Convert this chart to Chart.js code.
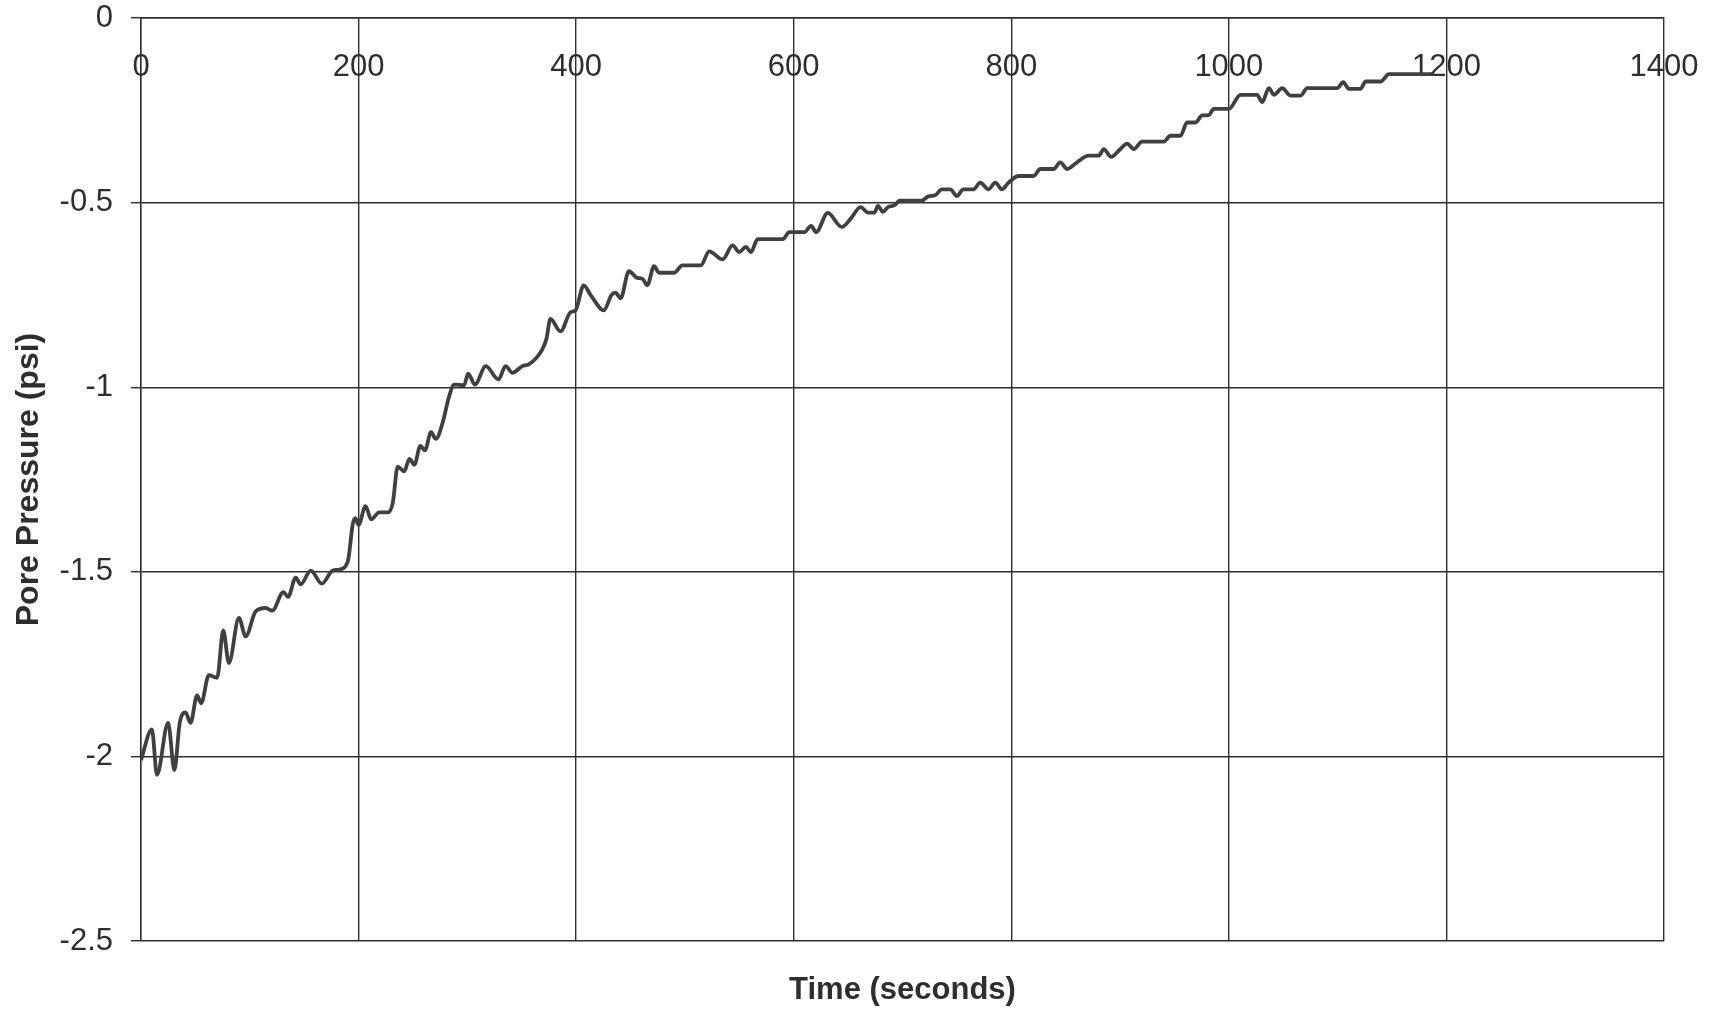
<!DOCTYPE html>
<html>
<head>
<meta charset="utf-8">
<title>Pore Pressure vs Time</title>
<script src="https://cdn.jsdelivr.net/npm/chart.js@4.4.0/dist/chart.umd.min.js"></script>
<style>
  html, body { margin: 0; padding: 0; background: #fff; }
</style>
</head>
<body>
<canvas id="myChart" width="1714" height="1010"></canvas>
<script>
// time in seconds, pore pressure in psi
const time_s = [
    0, 10, 14.7, 24.9, 30.7, 35.6, 40.9, 45.5, 51.6, 55.3, 62.4, 70, 75.6, 80.8, 90, 96.2,
    105.4, 114.6, 120.7, 130.9, 135.2, 142.2, 146.8, 156, 166.2, 176, 182, 190,
    194.8, 197, 200, 206.4, 211.6, 219, 226.9, 231.4, 236, 242, 246.7, 251.3, 256.8, 261,
    266.6, 271, 277.2, 283.3, 288, 297, 300.7, 306.9, 317, 328.5, 335.2, 341.4, 350.5,
    356.6, 368.8, 372.7, 376.3, 385.6, 394.8, 399.4, 407, 413.2, 425.5, 432.3, 436.2,
    440.9, 448.5, 456.2, 460.8, 465.4, 471.6, 476.2, 490, 497.7, 514.6, 522.3, 534.6,
    543.8, 549.9, 556, 560.7, 566.8, 589.9, 596, 609.8, 616, 620.6, 631.3, 644.2, 652.8,
    661.4, 668.2, 674.3, 677.4, 682, 686.6, 692.8, 697.4, 717.4, 723.8, 730, 736.2, 743.9,
    750, 756, 765.3, 771.5, 779, 785.3, 791.4, 797.5, 806.7, 820.5, 826.7, 839, 845,
    851.2, 860.4, 871, 880.4, 885, 891.7, 900.3, 906.4, 912.6, 920.2, 940.2, 946.3,
    955.5, 961.6, 969.3, 975.4, 981.6, 986.2, 1000, 1010.7, 1026, 1030.6, 1036.8, 1041.4,
    1049, 1056.7, 1066, 1072, 1099.6, 1105, 1110.4, 1121, 1125.7, 1139.5, 1147.2, 1188
];
const porePressure = [
    -2.01, -1.927, -2.05, -1.909, -2.037, -1.909, -1.881, -1.909, -1.835, -1.856, -1.78,
    -1.787, -1.659, -1.747, -1.625, -1.675, -1.607, -1.598, -1.605, -1.555, -1.568, -1.516,
    -1.534, -1.497, -1.532, -1.497, -1.494, -1.473,
    -1.369, -1.355, -1.373, -1.322, -1.358, -1.339, -1.339, -1.314, -1.215, -1.228, -1.194,
    -1.21, -1.159, -1.171, -1.122, -1.14, -1.097, -1.024, -0.993, -0.995, -0.963, -0.993,
    -0.943, -0.979, -0.943, -0.961, -0.943, -0.938, -0.898, -0.869, -0.815, -0.849, -0.797,
    -0.792, -0.724, -0.75, -0.792, -0.751, -0.744, -0.759, -0.686, -0.704, -0.706, -0.724,
    -0.672, -0.69, -0.69, -0.67, -0.67, -0.632, -0.654, -0.616, -0.634, -0.62, -0.634,
    -0.599, -0.599, -0.58, -0.58, -0.563, -0.58, -0.528, -0.566, -0.542, -0.512, -0.527,
    -0.527, -0.509, -0.525, -0.512, -0.507, -0.495, -0.495, -0.483, -0.48, -0.464, -0.464,
    -0.482, -0.464, -0.464, -0.446, -0.464, -0.446, -0.464, -0.446, -0.428, -0.428, -0.409,
    -0.409, -0.391, -0.409, -0.391, -0.373, -0.373, -0.355, -0.376, -0.355, -0.34, -0.355,
    -0.335, -0.335, -0.319, -0.319, -0.283, -0.283, -0.264, -0.263, -0.246, -0.246, -0.208,
    -0.208, -0.228, -0.19, -0.208, -0.19, -0.21, -0.21, -0.19, -0.19, -0.174, -0.192,
    -0.192, -0.172, -0.172, -0.152, -0.152
];
const xTicks = [0, 200, 400, 600, 800, 1000, 1200, 1400];
const yTicks = [0, -0.5, -1, -1.5, -2, -2.5];

const ink = '#2e2e2e';
const tickFont = { family: "'Liberation Sans', Arial, sans-serif", size: 31 };
const titleFont = { family: "'Liberation Sans', Arial, sans-serif", size: 31, weight: 'bold' };

new Chart(document.getElementById("myChart"), {
    type: 'line',
    data: {
        datasets: [
            {
                label: "Pore Pressure",
                data: time_s.map((t, i) => ({ x: t, y: porePressure[i] })),
                borderColor: '#404040',
                borderWidth: 3.8,
                pointRadius: 0,
                cubicInterpolationMode: 'monotone',
                xAxisID: 'x',
                yAxisID: 'y'
            }
        ]
    },
    options: {
        responsive: false,
        animation: false,
        devicePixelRatio: 1,
        layout: { padding: { top: 18, right: 50, bottom: 0, left: 0 } },
        plugins: {
            legend: { display: false },
            tooltip: { enabled: false }
        },
        scales: {
            // axis crosses at y = 0, so the time labels hang just under the top edge
            x: {
                type: 'linear',
                position: 'top',
                min: 0,
                max: 1400,
                afterBuildTicks: (scale) => { scale.ticks = xTicks.map(v => ({ value: v })); },
                afterFit: (scale) => {
                    scale.height = 0;
                    scale.paddingLeft = 0;
                    scale.paddingRight = 0;
                },
                grid: { color: ink, lineWidth: 1.4, drawTicks: false },
                border: { color: ink, width: 1.4 },
                ticks: {
                    font: tickFont,
                    color: ink,
                    mirror: true,
                    padding: 31,
                    maxRotation: 0,
                    autoSkip: false,
                    callback: (v) => String(v)
                }
            },
            // only carries the axis title under the plot
            xTitle: {
                type: 'linear',
                position: 'bottom',
                min: 0,
                max: 1400,
                afterFit: (scale) => { scale.height = 69; },
                grid: { display: false },
                border: { display: false },
                ticks: { display: false },
                title: {
                    display: true,
                    text: 'Time (seconds)',
                    font: titleFont,
                    color: ink,
                    padding: { top: 0, bottom: 1 }
                }
            },
            y: {
                type: 'linear',
                position: 'left',
                min: -2.5,
                max: 0,
                afterBuildTicks: (scale) => { scale.ticks = yTicks.map(v => ({ value: v })); },
                afterFit: (scale) => {
                    scale.width = 141;
                    scale.paddingTop = 0;
                    scale.paddingBottom = 0;
                },
                grid: { color: ink, lineWidth: 1.4, tickLength: 10 },
                border: { color: ink, width: 1.4 },
                ticks: {
                    font: tickFont,
                    color: ink,
                    padding: 18,
                    callback: (v) => String(v)
                },
                title: {
                    display: true,
                    text: 'Pore Pressure (psi)',
                    font: { ...titleFont, size: 32 },
                    color: ink,
                    padding: { top: 10, bottom: 0 }
                }
            }
        }
    }
});
</script>
</body>
</html>
